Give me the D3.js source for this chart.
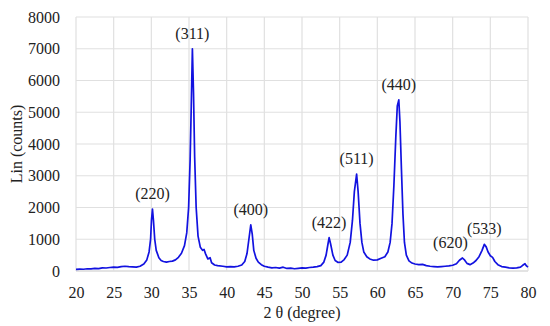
<!DOCTYPE html>
<html>
<head>
<meta charset="utf-8">
<script src="https://cdn.jsdelivr.net/npm/d3@7"></script>
<style>
  body { margin: 0; background: #fff; }
</style>
</head>
<body>
<svg id="chart"></svg>
<script>
// 2-theta positions (degree) and intensities (counts)
const twoTheta = [
  20.0, 20.5, 21.0, 21.5, 22.0, 22.5, 23.0, 23.5, 24.0, 24.5, 25.0, 25.5, 26.0, 26.5, 27.0, 27.5, 28.0, 28.5,
  29.0, 29.4, 29.7, 29.9, 30.02, 30.15, 30.28, 30.45, 30.65, 31.0, 31.3, 31.6, 32.0, 32.4, 32.8, 33.2, 33.6,
  34.0, 34.4, 34.7, 34.95, 35.15, 35.3, 35.45, 35.6, 35.75, 35.95, 36.2, 36.5, 36.8, 37.0, 37.2, 37.5, 37.8,
  38.0, 38.4, 38.8, 39.5, 40.0, 40.5, 41.0, 41.5, 42.0, 42.4, 42.7, 42.95, 43.2, 43.4, 43.6, 43.9, 44.2,
  44.6, 45.0, 45.5, 46.0, 46.5, 47.0, 47.5, 48.0, 48.5, 49.0, 49.5, 50.0, 50.5, 51.0, 51.5, 52.0, 52.5,
  52.9, 53.2, 53.45, 53.6, 53.8, 54.1, 54.4, 54.8, 55.2, 55.6, 56.0, 56.4, 56.7, 56.95, 57.25, 57.45, 57.7,
  57.95, 58.2, 58.6, 59.0, 59.5, 60.0, 60.5, 61.0, 61.4, 61.7, 61.95, 62.2, 62.45, 62.65, 62.85, 63.0,
  63.2, 63.4, 63.6, 63.85, 64.2, 64.6, 65.0, 65.5, 66.0, 66.5, 67.0, 67.5, 68.0, 68.5, 69.0, 69.5, 70.0,
  70.5, 70.9, 71.3, 71.6, 71.9, 72.3, 72.7, 73.1, 73.5, 73.9, 74.2, 74.45, 74.7, 75.0, 75.3, 75.6, 76.0,
  76.5, 77.0, 77.5, 78.0, 78.5, 79.0, 79.3, 79.6, 79.8, 80.0
];
const counts = [
  50, 60, 55, 70, 65, 80, 75, 100, 95, 110, 120, 115, 140, 150, 135, 130, 120, 150,
  220, 350, 600, 1000, 1600, 1950, 1600, 1000, 650, 420, 330, 300, 280, 300, 310, 350, 430,
  560, 800, 1200, 2000, 3500, 5200, 7000, 5600, 3600, 2000, 1100, 750, 650, 680, 540, 380, 420,
  260, 190, 170, 150, 130, 140, 130, 150, 190, 300, 550, 1000, 1450, 1150, 650, 400, 280,
  200, 150, 120, 100, 110, 90, 120, 80, 90, 70, 85, 100, 90, 110, 120, 140, 170,
  280, 500, 850, 1050, 850, 500, 330, 270, 280, 360, 500, 900, 1600, 2500, 3050, 2500, 1500,
  900, 600, 450, 380, 340, 350, 400, 450, 600, 900, 1500, 2700, 4200, 5200, 5390, 4700,
  3200, 1800, 900, 500, 320, 250, 220, 200, 210, 170, 150, 140, 130, 140, 150, 160, 180,
  230, 340, 410, 340, 240, 200, 250, 330, 450, 650, 840, 760, 600, 480, 430, 300, 200,
  140, 120, 100, 90, 100, 120, 180, 230, 160, 120
];

// peak labels (Miller indices) with their peak position and intensity
const peakNames = ["(220)", "(311)", "(400)", "(422)", "(511)", "(440)", "(620)", "(533)"];
const peakTheta = [30.15, 35.45, 43.2, 53.6, 57.25, 62.85, 71.3, 74.2];
const peakCounts = [1950, 7000, 1450, 1050, 3050, 5390, 410, 840];
const peakLabelOffset = [0, 0, 0, 0, 0, 0, -1.6, 0]; // (620) sits left of its peak

const xTicks = [20, 25, 30, 35, 40, 45, 50, 55, 60, 65, 70, 75, 80];
const yTicks = [0, 1000, 2000, 3000, 4000, 5000, 6000, 7000, 8000];

const FONT = '"Liberation Serif", "DejaVu Serif", serif';
const FS = "16px";
const width = 550, height = 326;
const margin = { top: 17, right: 22, bottom: 55, left: 76 };
const innerW = width - margin.left - margin.right;
const innerH = height - margin.top - margin.bottom;

const svg = d3.select("#chart").attr("width", width).attr("height", height);
const g = svg.append("g").attr("transform", `translate(${margin.left},${margin.top})`);

const x = d3.scaleLinear().domain([20, 80]).range([0, innerW]);
const y = d3.scaleLinear().domain([0, 8000]).range([innerH, 0]);

// gridlines
g.append("g")
  .selectAll("line")
  .data(yTicks)
  .join("line")
  .attr("x1", 0).attr("x2", innerW)
  .attr("y1", d => y(d)).attr("y2", d => y(d))
  .attr("stroke", d => d === 0 ? "#c8c8c8" : "#e0e0e0")
  .attr("stroke-width", 1.2);

g.append("g")
  .selectAll("line")
  .data(xTicks)
  .join("line")
  .attr("x1", d => x(d)).attr("x2", d => x(d))
  .attr("y1", 0).attr("y2", innerH)
  .attr("stroke", "#e0e0e0")
  .attr("stroke-width", 1.2);

// axes (labels only, no domain or tick marks)
const xAxis = g.append("g")
  .attr("transform", `translate(0,${innerH})`)
  .call(d3.axisBottom(x).tickValues(xTicks).tickFormat(d3.format("d")).tickSize(0).tickPadding(16));
const yAxis = g.append("g")
  .call(d3.axisLeft(y).tickValues(yTicks).tickFormat(d3.format("d")).tickSize(0).tickPadding(16));
[xAxis, yAxis].forEach(a => {
  a.select(".domain").remove();
  a.selectAll("text")
    .style("font-family", FONT)
    .style("font-size", FS)
    .style("fill", "#222");
});

// pattern
const pts = twoTheta.map((t, i) => [t, counts[i]]);
g.append("path")
  .datum(pts)
  .attr("d", d3.line().x(d => x(d[0])).y(d => y(d[1])))
  .attr("fill", "none")
  .attr("stroke", "#1212e0")
  .attr("stroke-width", 1.7)
  .attr("stroke-linejoin", "round");

// peak labels
g.append("g")
  .selectAll("text")
  .data(peakNames)
  .join("text")
  .attr("x", (d, i) => x(peakTheta[i] + peakLabelOffset[i]))
  .attr("y", (d, i) => y(peakCounts[i]) - 10)
  .attr("text-anchor", "middle")
  .style("font-family", FONT)
  .style("font-size", FS)
  .style("fill", "#222")
  .text(d => d);

// axis titles
svg.append("text")
  .attr("x", margin.left + innerW / 2)
  .attr("y", 318)
  .attr("text-anchor", "middle")
  .style("font-family", FONT)
  .style("font-size", FS)
  .style("fill", "#222")
  .text("2 θ (degree)");

svg.append("text")
  .attr("transform", `translate(22,${margin.top + innerH / 2}) rotate(-90)`)
  .attr("text-anchor", "middle")
  .style("font-family", FONT)
  .style("font-size", FS)
  .style("fill", "#222")
  .text("Lin (counts)");
</script>
</body>
</html>
